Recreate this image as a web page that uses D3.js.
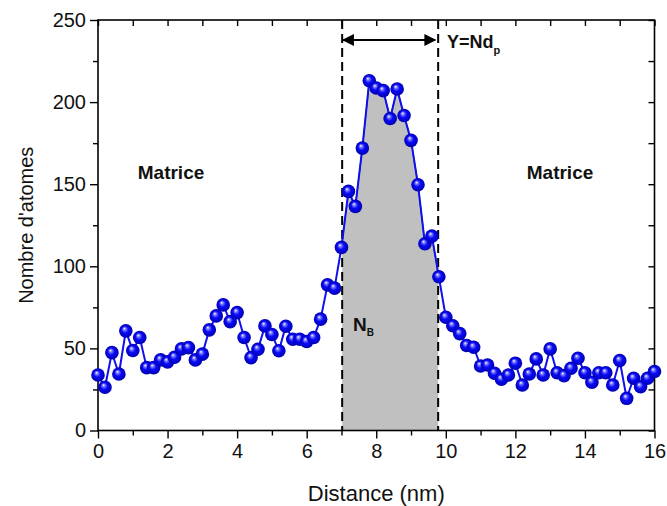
<!DOCTYPE html>
<html><head><meta charset="utf-8">
<script src="https://cdn.jsdelivr.net/npm/d3@7"></script>
<style>body{margin:0;background:#fff}svg{display:block;font-family:"Liberation Sans",Arial,sans-serif}</style>
</head><body><svg id="c" width="667" height="506"></svg>
<script>
// Data
const step = 0.2; // nm spacing between points
const counts = [33.8,26.3,47.4,34.4,60.7,48.7,56.6,38.3,38.3,43,41.8,44.6,49.7,50.5,43,46.5,61.3,69.8,76.5,66.3,
  71.8,56.6,44.4,49.5,63.7,58.5,48.6,63.5,55.6,55.6,54.2,56.6,67.8,88.7,86.7,111.5,145.6,136.5,172,213,
  208.6,207,190,208,191.8,176.7,149.7,113.7,118.4,93.6,69,63.8,59,51.8,50.7,39.3,39.9,34.9,31.2,33.8,
  41,27.7,34.4,43.6,33.8,49.7,35.2,33.4,37.9,44,35.2,29.4,35.2,35.2,27.7,42.6,19.6,31.8,26.7,31.8,35.9];
const distances = counts.map((_, i) => +(i * step).toFixed(1));
const xTicks = [0,2,4,6,8,10,12,14,16];
const yTicks = [0,50,100,150,200,250];
const bounds = [7.02, 9.78];   // precipitate limits (nm)
const labels = {x: "Distance (nm)", y: "Nombre d'atomes", matrix: "Matrice"};

const svg = d3.select("#c");
const m = {l:98, t:20, r:12.5, b:75.5};
const W = 667, H = 506;
const x = d3.scaleLinear().domain([0,16]).range([m.l, W - m.r]);
const y = d3.scaleLinear().domain([0,250]).range([H - m.b, m.t]);

const data = distances.map((d,i)=>({x:d, y:counts[i]}));

// defs
const defs = svg.append("defs");
const gr = defs.append("radialGradient").attr("id","ball").attr("cx","50%").attr("cy","50%").attr("r","50%").attr("fx","38%").attr("fy","32%");
gr.append("stop").attr("offset","0%").attr("stop-color","#ffffff");
gr.append("stop").attr("offset","20%").attr("stop-color","#8080ff");
gr.append("stop").attr("offset","50%").attr("stop-color","#0a0af8");
gr.append("stop").attr("offset","100%").attr("stop-color","#0000b0");
defs.append("clipPath").attr("id","band").append("rect")
  .attr("x", x(bounds[0])).attr("y", y(250)).attr("width", x(bounds[1]) - x(bounds[0])).attr("height", y(0) - y(250));
const mk = defs.append("marker").attr("id","ah").attr("viewBox","0 0 10 10").attr("refX",9).attr("refY",5)
  .attr("markerWidth",6.5).attr("markerHeight",6).attr("orient","auto-start-reverse").attr("markerUnits","strokeWidth");
mk.append("path").attr("d","M0,0 L10,5 L0,10 Z").attr("fill","#000");

// shaded area
svg.append("path").datum(data).attr("clip-path","url(#band)")
  .attr("d", d3.area().x(d=>x(d.x)).y0(y(0)).y1(d=>y(d.y)))
  .attr("fill","#c0c0c0").attr("stroke","#222").attr("stroke-width",1.2);

// axes
const ax = svg.append("g").attr("color","#000");
const axB = ax.append("g").attr("transform",`translate(0,${y(0)})`);
axB.call(d3.axisBottom(x).tickValues(d3.range(1,16,2)).tickSize(5).tickFormat(""));
axB.append("g").call(d3.axisBottom(x).tickValues(xTicks).tickSize(8).tickPadding(5));
const axL = ax.append("g").attr("transform",`translate(${x(0)},0)`);
axL.call(d3.axisLeft(y).tickValues(d3.range(25,250,50)).tickSize(5).tickFormat(""));
axL.append("g").call(d3.axisLeft(y).tickValues(yTicks).tickSize(8).tickPadding(4));
const axT = ax.append("g").attr("transform",`translate(0,${y(250)})`);
axT.call(d3.axisBottom(x).tickValues(d3.range(0,17,1)).tickSize(6).tickFormat(""));
const axR = ax.append("g").attr("transform",`translate(${x(16)},0)`);
axR.call(d3.axisLeft(y).tickValues(d3.range(0,251,25)).tickSize(6).tickFormat(""));
ax.selectAll(".domain").remove();
ax.selectAll(".tick line").attr("stroke-width",1.4);
ax.selectAll(".tick text").attr("font-size",20).attr("fill","#111").attr("font-family","Liberation Sans, Arial, sans-serif");
svg.append("rect").attr("x",x(0)).attr("y",y(250)).attr("width",x(16)-x(0)).attr("height",y(0)-y(250))
  .attr("fill","none").attr("stroke","#000").attr("stroke-width",1.6);

// dashed boundaries
bounds.forEach(b=>{
  svg.append("line").attr("x1",x(b)).attr("x2",x(b)).attr("y1",y(250)).attr("y2",y(0))
    .attr("stroke","#000").attr("stroke-width",2).attr("stroke-dasharray","9,5");
});

// arrow
svg.append("line").attr("x1",x(bounds[0])+1).attr("x2",x(bounds[1])-3).attr("y1",40).attr("y2",40)
  .attr("stroke","#000").attr("stroke-width",2).attr("marker-start","url(#ah)").attr("marker-end","url(#ah)");

// line + markers
svg.append("path").datum(data).attr("d", d3.line().x(d=>x(d.x)).y(d=>y(d.y)))
  .attr("fill","none").attr("stroke","#1010ee").attr("stroke-width",2);
svg.append("g").selectAll("circle").data(data).join("circle")
  .attr("cx",d=>x(d.x)).attr("cy",d=>y(d.y)).attr("r",6.8).attr("fill","url(#ball)");

// texts
const t1 = svg.append("text").attr("x",447).attr("y",48).attr("font-size",18).attr("font-weight","bold").attr("fill","#111");
t1.append("tspan").text("Y=Nd");
t1.append("tspan").attr("font-size",11).attr("dy",6).text("p");
svg.append("text").attr("x",171).attr("y",179).attr("text-anchor","middle").attr("font-size",19).attr("font-weight","bold").attr("fill","#111").text(labels.matrix);
svg.append("text").attr("x",560).attr("y",179).attr("text-anchor","middle").attr("font-size",19).attr("font-weight","bold").attr("fill","#111").text(labels.matrix);
const nb = svg.append("text").attr("x",353).attr("y",331).attr("font-size",19).attr("font-weight","bold").attr("fill","#111");
nb.append("tspan").text("N");
nb.append("tspan").attr("font-size",10).attr("dy",5).text("B");

svg.append("text").attr("x",(x(0)+x(16))/2).attr("y",501).attr("text-anchor","middle").attr("font-size",22).attr("fill","#111").text(labels.x);
svg.append("text").attr("transform",`translate(33,${(y(0)+y(250))/2}) rotate(-90)`).attr("text-anchor","middle").attr("font-size",20).attr("fill","#111").text(labels.y);
</script></body></html>
